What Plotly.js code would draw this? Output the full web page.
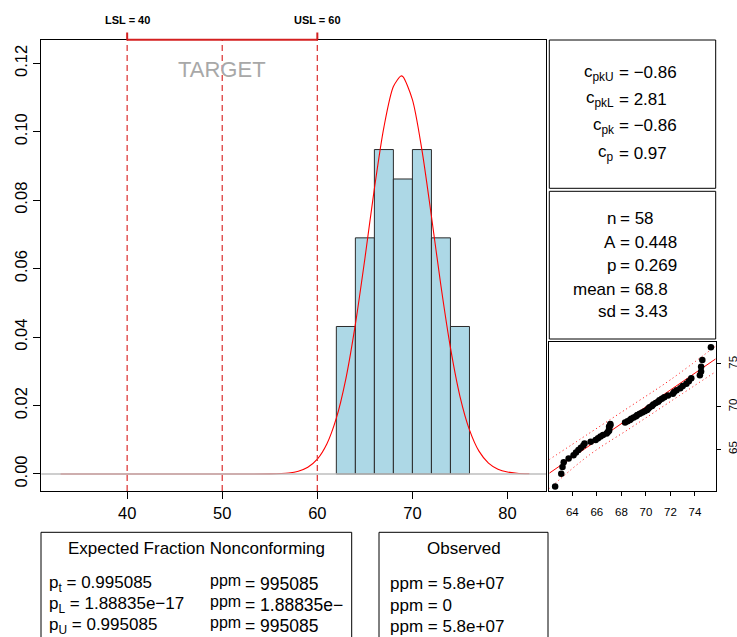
<!DOCTYPE html>
<html>
<head>
<meta charset="utf-8">
<script src="https://cdn.plot.ly/plotly-3.0.1.min.js"></script>
<style>html,body{margin:0;padding:0;background:#fff;}#chart{width:737px;height:637px;}</style>
</head>
<body>
<div id="chart"></div>
<script>
// ---------------- data ----------------
const LSL = 40, USL = 60, TARGET = 50;
const binMids = [63, 65, 67, 69, 71, 73, 75];
const binDensity = [0.0431, 0.0690, 0.0948, 0.0862, 0.0948, 0.0690, 0.0431];
const curveX = [33, 40, 50, 55, 57, 58, 59, 60, 61, 62, 63, 64, 65, 66, 67, 68, 68.8, 69, 70, 71, 72, 73, 74, 75, 76, 77, 78, 79, 80, 81, 82.3];
const curveY = [0, 0, 0, 0.00004, 0.00031, 0.00082, 0.00196, 0.00433, 0.00876, 0.0163, 0.0278, 0.0437, 0.0629, 0.0834, 0.1013, 0.1132, 0.1163, 0.1161, 0.1094, 0.0947, 0.0753, 0.0550, 0.0369, 0.0227, 0.0129, 0.00667, 0.00319, 0.0014, 0.00056, 0.00021, 0.00005];
const xTicks = [40, 50, 60, 70, 80];
const yTicks = [0, 0.02, 0.04, 0.06, 0.08, 0.10, 0.12];
const yTickText = ['0.00', '0.02', '0.04', '0.06', '0.08', '0.10', '0.12'];

const qqSample = [62.6, 63.1, 63.2, 63.3, 63.7, 64.1, 64.3, 64.5, 64.7, 64.9,
  65.0, 65.5, 65.9, 66.1, 66.3, 66.5, 66.8, 66.9, 67.0, 67.0,
  67.0, 67.0, 67.1, 67.1, 68.3, 68.5, 68.7, 68.8, 69.0, 69.2,
  69.3, 69.5, 69.7, 69.9, 70.1, 70.2, 70.3, 70.5, 70.6, 70.8,
  71.0, 71.1, 71.3, 71.5, 71.8, 72.2, 72.3, 72.5, 72.8, 73.0,
  73.3, 73.5, 73.7, 74.4, 74.5, 74.5, 74.6, 75.3];
const qqTheory = [60.63, 62.13, 62.92, 63.48, 63.93, 64.30, 64.63, 64.92, 65.19, 65.44,
  65.68, 65.89, 66.10, 66.30, 66.49, 66.67, 66.84, 67.02, 67.18, 67.35,
  67.51, 67.67, 67.82, 67.98, 68.13, 68.28, 68.43, 68.58, 68.72, 68.88,
  69.02, 69.17, 69.32, 69.47, 69.62, 69.78, 69.93, 70.09, 70.25, 70.42,
  70.58, 70.76, 70.93, 71.11, 71.30, 71.50, 71.71, 71.92, 72.16, 72.41,
  72.68, 72.98, 73.32, 73.67, 74.12, 74.68, 75.47, 76.97];
const qqLineX = [62.12, 75.69];
const qqLineY = [62.2, 75.6];
const bandX = [62.12, 65.4, 68.8, 72.0, 75.69];
const bandUpper = [63.8, 66.9, 70.1, 73.15, 77.1];
const bandLower = [60.4, 64.35, 67.55, 70.6, 74.1];
const qqXTicks = [64, 66, 68, 70, 72, 74];
const qqYTicks = [65, 70, 75];

const capLabels = ['c<sub>pkU</sub>', 'c<sub>pkL</sub>', 'c<sub>pk</sub>', 'c<sub>p</sub>'];
const capValues = ['−0.86', '2.81', '−0.86', '0.97'];
const statLabels = ['n', 'A', 'p', 'mean', 'sd'];
const statValues = ['58', '0.448', '0.269', '68.8', '3.43'];

const expTitle = 'Expected Fraction Nonconforming';
const expLabels = ['p<sub>t</sub>', 'p<sub>L</sub>', 'p<sub>U</sub>'];
const expValues = ['0.995085', '1.88835e−17', '0.995085'];
const expPpm = ['995085', '1.88835e−', '995085'];
const obsTitle = 'Observed';
const obsPpm = ['5.8e+07', '0', '5.8e+07'];

// ---------------- layout helpers ----------------
const W = 737, H = 637;
const px = v => v / W;
const py = v => 1 - v / H;
const FONT = 'Liberation Sans, Arial, Helvetica, sans-serif';
const FS = 16.5;
const FT = 17;

const traces = [
  {type: 'bar', x: binMids, y: binDensity, width: 2, xaxis: 'x', yaxis: 'y',
   marker: {color: '#ADD8E6', line: {color: '#2b2b2b', width: 1}}, hoverinfo: 'skip'},
  {type: 'scatter', mode: 'lines', x: curveX, y: curveY, xaxis: 'x', yaxis: 'y',
   line: {color: '#FF0000', width: 1.1, shape: 'spline', smoothing: 0.8}},
  {type: 'scatter', mode: 'lines', x: bandX, y: bandUpper, xaxis: 'x2', yaxis: 'y2',
   line: {color: '#FF0000', width: 1, dash: '1px,3px', shape: 'spline'}},
  {type: 'scatter', mode: 'lines', x: bandX, y: bandLower, xaxis: 'x2', yaxis: 'y2',
   line: {color: '#FF0000', width: 1, dash: '1px,3px', shape: 'spline'}},
  {type: 'scatter', mode: 'lines', x: qqLineX, y: qqLineY, xaxis: 'x2', yaxis: 'y2',
   line: {color: '#FF0000', width: 1}},
  {type: 'scatter', mode: 'markers', x: qqSample, y: qqTheory, xaxis: 'x2', yaxis: 'y2',
   marker: {color: '#000', size: 6.5}, cliponaxis: true}
];

const axBase = {showline: true, mirror: true, linecolor: '#000', linewidth: 1,
  ticks: 'outside', tickcolor: '#000', tickwidth: 1, showgrid: false, zeroline: false,
  fixedrange: true};

const layout = {
  width: W, height: H, margin: {l: 0, r: 0, t: 0, b: 0},
  paper_bgcolor: '#fff', plot_bgcolor: 'rgba(0,0,0,0)', showlegend: false,
  font: {family: FONT, color: '#000', size: FS},
  xaxis: Object.assign({}, axBase, {domain: [px(41.3), px(546)], range: [30.97, 84.05],
    tickvals: xTicks, ticklen: 7, tickfont: {size: FS}, anchor: 'y'}),
  yaxis: Object.assign({}, axBase, {domain: [py(491), py(39.7)], range: [-0.00497, 0.1269],
    tickvals: yTicks, ticktext: yTickText, tickangle: -90, ticklen: 7, tickfont: {size: FS}, anchor: 'x'}),
  xaxis2: Object.assign({}, axBase, {domain: [px(549.3), px(715.7)], range: [62.125, 75.69],
    tickvals: qqXTicks, ticklen: 4, ticklabelstandoff: 6, tickfont: {size: 11.5}, anchor: 'y2'}),
  yaxis2: Object.assign({}, axBase, {domain: [py(490.7), py(342.3)], range: [60.15, 77.54],
    tickvals: qqYTicks, side: 'right', tickangle: -90, ticklen: 4, ticklabelstandoff: 2,
    tickfont: {size: 11.5}, anchor: 'x2'}),
  shapes: [],
  annotations: []
};

const S = layout.shapes, A = layout.annotations;
// zero line
S.push({type: 'line', xref: 'x domain', x0: 0, x1: 1, yref: 'y', y0: 0, y1: 0,
  line: {color: '#BEBEBE', width: 1.5}, layer: 'above'});
// spec / target dashed lines
[LSL, TARGET, USL].forEach(v => S.push({type: 'line', xref: 'x', x0: v, x1: v, yref: 'y domain', y0: 0, y1: 1,
  line: {color: 'rgb(222,60,60)', width: 1.3, dash: '6px,4px'}, layer: 'above'}));
// top red segment and tick marks
S.push({type: 'line', xref: 'x', x0: LSL, x1: USL, yref: 'y domain', y0: 1, y1: 1,
  line: {color: '#D42020', width: 2}, layer: 'above'});
[LSL, USL].forEach(v => S.push({type: 'line', xref: 'x', x0: v, x1: v, yref: 'paper', y0: py(39.7), y1: py(32.5),
  line: {color: '#D42020', width: 2}, layer: 'above'}));
// right panels and bottom boxes
const rect = (x0, y0, x1, y1) => S.push({type: 'rect', xref: 'paper', yref: 'paper',
  x0: px(x0), x1: px(x1), y0: py(y1), y1: py(y0), line: {color: '#000', width: 1}, fillcolor: 'rgba(0,0,0,0)'});
rect(549.3, 40, 715.7, 188.3);
rect(549.3, 191.3, 715.7, 339);
rect(41, 532.3, 351.7, 660);
rect(379, 532.3, 548, 660);

const ann = (text, x, y, xanchor, opts) => A.push(Object.assign({text: text, xref: 'paper', yref: 'paper',
  x: px(x), y: py(y), xanchor: xanchor, yanchor: 'middle', showarrow: false,
  borderpad: 0, borderwidth: 0, font: {size: FT, family: FONT, color: '#000'}}, opts || {}));

// spec labels
ann('<b>LSL = ' + LSL + '</b>', 127, 20, 'center', {font: {size: 11, family: FONT, color: '#000'}});
ann('<b>USL = ' + USL + '</b>', 317, 20, 'center', {font: {size: 11, family: FONT, color: '#000'}});
ann('TARGET', 222, 69, 'center', {font: {size: 22, family: FONT, color: '#A8A8A8'}});

// capability indices panel
const capY = [72.5, 99.5, 126, 153.5];
capLabels.forEach((t, i) => {
  ann(t, 614, capY[i], 'right');
  ann('= ' + capValues[i], 618.5, capY[i], 'left');
});
// statistics panel
const statY = [218, 242, 265.5, 289, 311.5];
statLabels.forEach((t, i) => {
  ann(t, 615.5, statY[i], 'right');
  ann('= ' + statValues[i], 620, statY[i], 'left');
});

// expected fraction box
ann(expTitle, 196, 548.3, 'center');
const rowY = [583.5, 605, 626];
expLabels.forEach((t, i) => {
  ann(t + ' = ' + expValues[i], 48.5, rowY[i], 'left');
  ann('ppm', 210.5, rowY[i] - 3.5, 'left', {font: {size: 16, family: FONT, color: '#000'}});
  ann('= ' + expPpm[i], 245, rowY[i], 'left', {font: {size: 17.5, family: FONT, color: '#000'}});
});
// observed box
ann(obsTitle, 463.5, 548.3, 'center');
obsPpm.forEach((v, i) => ann('ppm = ' + v, 389.5, rowY[i], 'left'));

Plotly.newPlot('chart', traces, layout, {staticPlot: true, displayModeBar: false});
</script>
</body>
</html>
